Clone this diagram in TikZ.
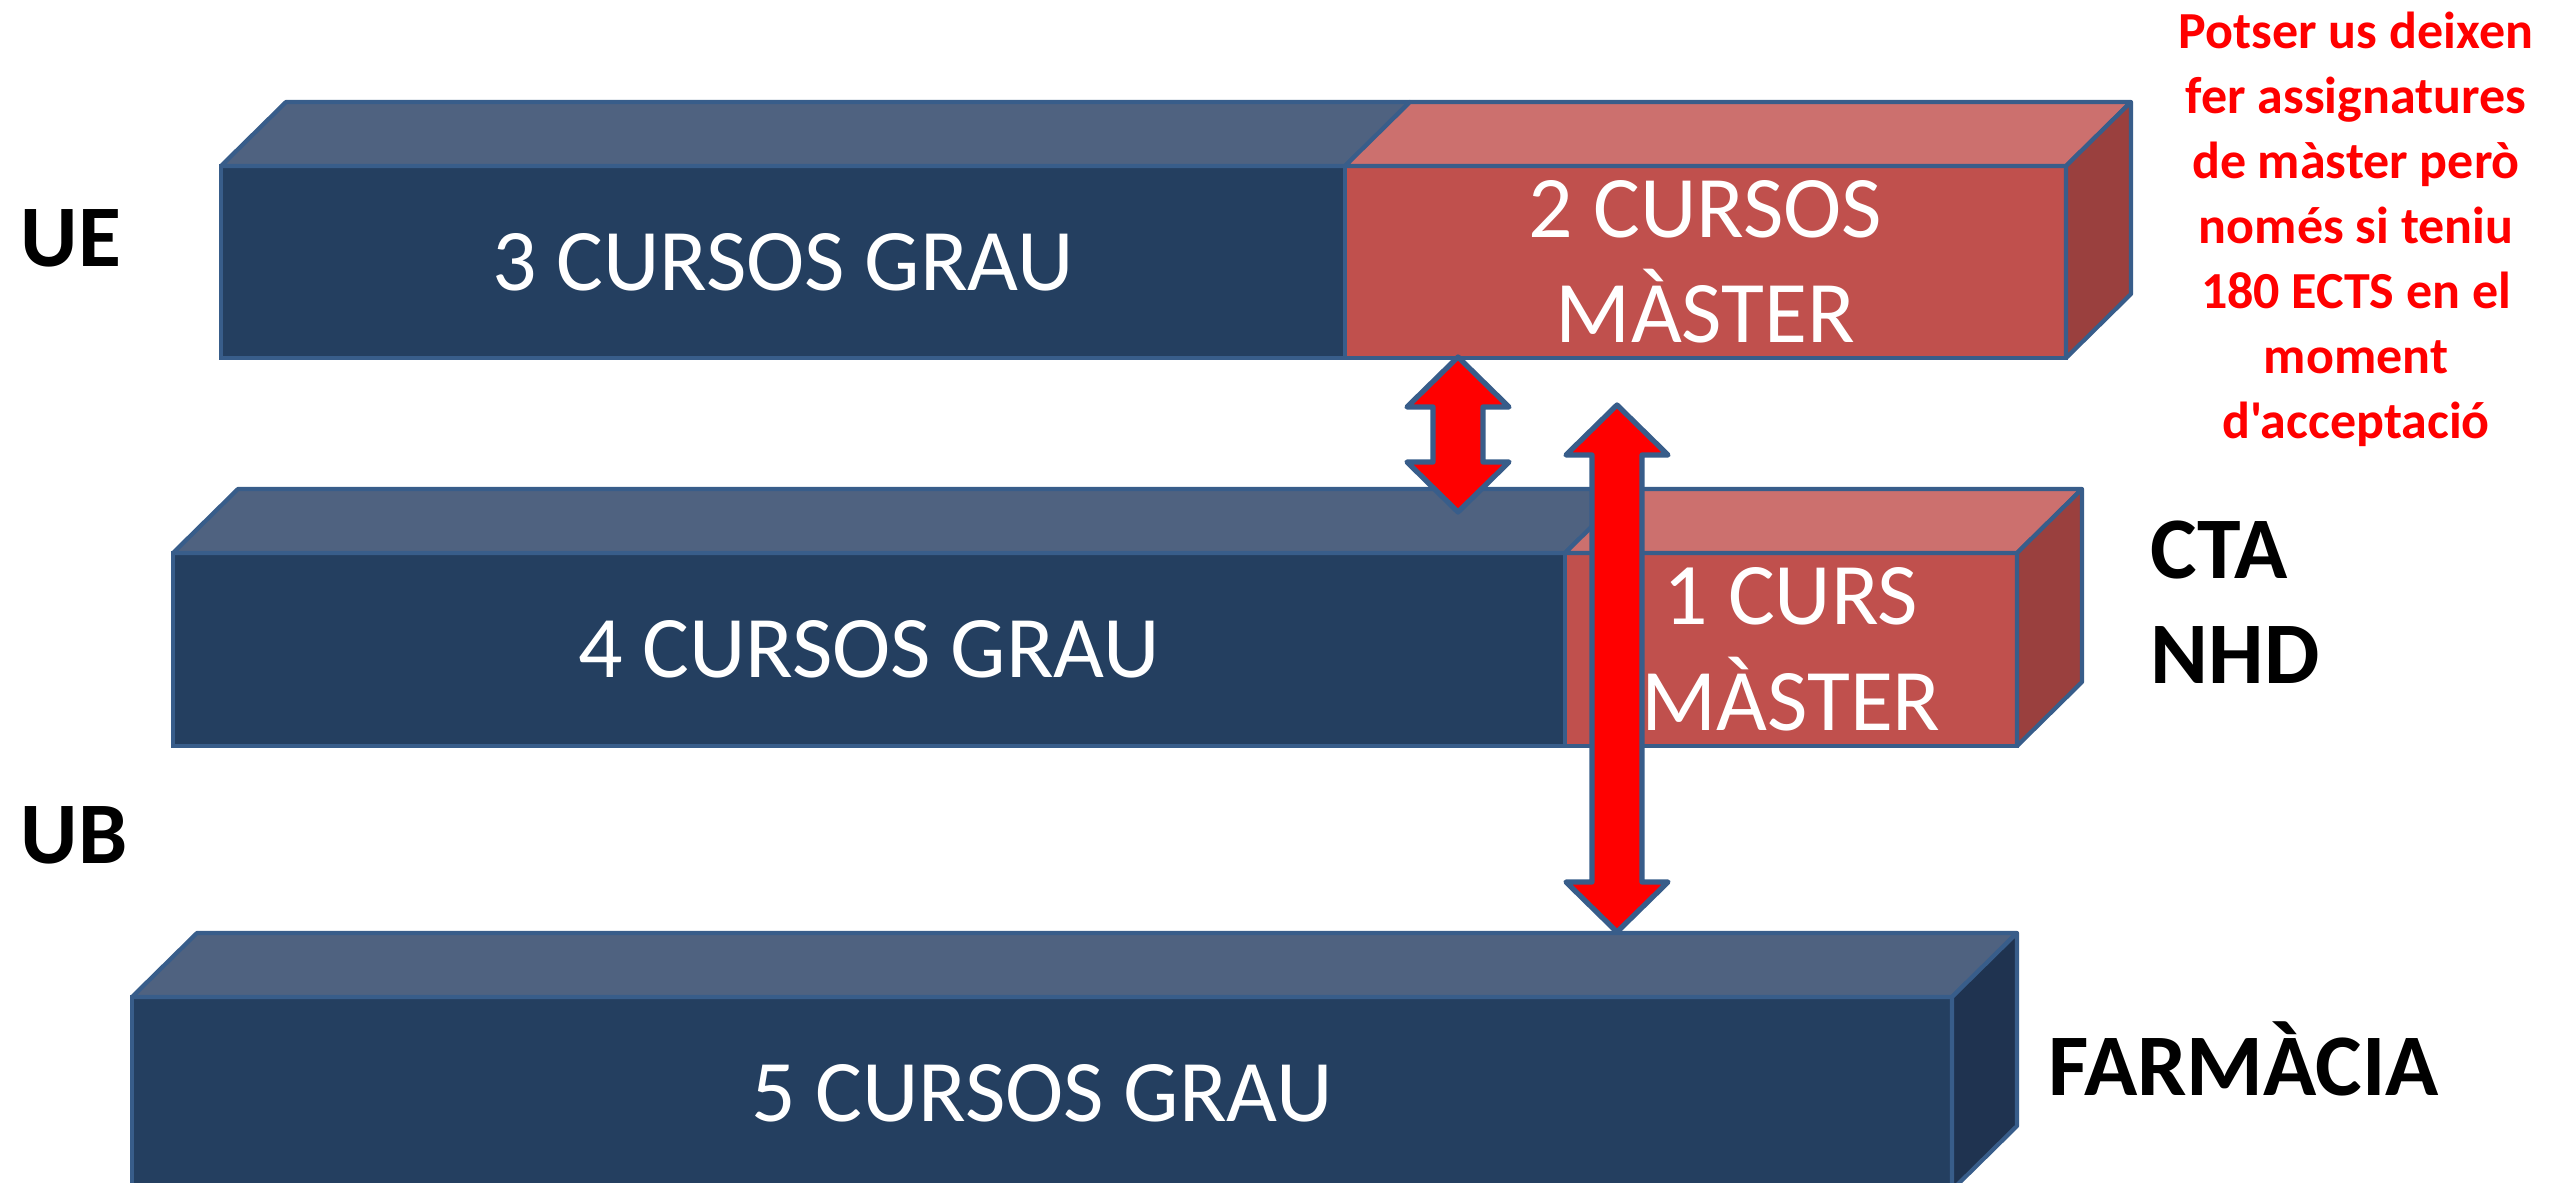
\documentclass[tikz,border=0pt]{standalone}
\usepackage{fontspec}
\setmainfont{Carlito}
\newfontfamily\notefont{Carlito}[Ligatures=TeXOff]
\usetikzlibrary{calc,positioning}

\definecolor{boxline}{HTML}{385D8A}
\definecolor{navyfront}{HTML}{243F60}
\definecolor{navytop}{HTML}{4F6280}
\definecolor{navyside}{HTML}{1F3350}
\definecolor{redfront}{HTML}{C0504D}
\definecolor{redtop}{HTML}{CC706E}
\definecolor{redside}{HTML}{9A403E}
\definecolor{arrowred}{HTML}{FF0000}

% top and right faces of a block, hung on the corners of its front node
\newcommand{\topface}[2]{\draw[blockface,fill=#2] (#1.north west) -- ++(0.65,0.64) -- ($(#1.north east)+(0.65,0.64)$) -- (#1.north east) -- cycle;}
\newcommand{\sideface}[2]{\draw[blockface,fill=#2] (#1.north east) -- ++(0.65,0.64) -- ($(#1.south east)+(0.65,0.64)$) -- (#1.south east) -- cycle;}
% block arrow with a head at each end
\newcommand{\dblarrow}[2]{\draw[blockarrow] (#1) -- ($(#1)+(0.51,-0.5)$) -- ($(#1)+(0.25,-0.5)$) -- ($(#2)+(0.25,0.5)$) -- ($(#2)+(0.51,0.5)$) -- (#2) -- ($(#2)+(-0.51,0.5)$) -- ($(#2)+(-0.25,0.5)$) -- ($(#1)+(-0.25,-0.5)$) -- ($(#1)+(-0.51,-0.5)$) -- cycle;}

\begin{document}
\begin{tikzpicture}[
  frontface/.style={draw=boxline, line width=1.2pt, outer sep=0pt, inner sep=0pt, text=white, align=center, font=\fontsize{25}{30}\selectfont},
  blockface/.style={draw=boxline, line width=1.2pt, line join=round},
  sidelabel/.style={inner sep=0pt, align=left, font=\fontsize{25}{30}\selectfont\bfseries},
  note/.style={inner sep=0pt, align=center, text=arrowred, font=\notefont\fontsize{14.8}{18.5}\selectfont\bfseries},
  blockarrow/.style={draw=boxline, fill=arrowred, line width=1.5pt, line join=round}]

% page frame
\useasboundingbox (0,0) rectangle (25.56,11.83);
\clip (0,0) rectangle (25.56,11.83);

% UE: 3 + 2
\node[frontface, fill=navyfront, minimum width=11.24cm, minimum height=1.92cm] (ue grau) at (7.83,9.21) {3 CURSOS GRAU};
\node[frontface, fill=redfront, minimum width=7.21cm, minimum height=1.92cm, right=0pt of ue grau] (ue master) {2 CURSOS\\MÀSTER};
\topface{ue grau}{navytop}
\topface{ue master}{redtop}
\sideface{ue master}{redside}

% UB: 4 + 1
\node[frontface, fill=navyfront, minimum width=13.92cm, minimum height=1.93cm] (ub grau) at (8.69,5.335) {4 CURSOS GRAU};
\node[frontface, fill=redfront, minimum width=4.52cm, minimum height=1.93cm, right=0pt of ub grau] (ub master) {1 CURS\\MÀSTER};
\topface{ub grau}{navytop}
\topface{ub master}{redtop}
\sideface{ub master}{redside}

% farmacia: 5
\node[frontface, fill=navyfront, minimum width=18.20cm, minimum height=1.93cm] (fa grau) at (10.42,0.895) {5 CURSOS GRAU};
\topface{fa grau}{navytop}
\sideface{fa grau}{navyside}

% labels
\node[sidelabel, anchor=base west] (ue) at (0.20,9.16) {UE};
\node[sidelabel, anchor=base west] (ub) at (0.20,3.19) {UB};
\node[sidelabel, anchor=base west] (cta) at (21.50,6.04) {CTA};
\node[sidelabel, anchor=base west] (nhd) at (21.50,4.99) {NHD};
\node[sidelabel, anchor=base west] (farmacia) at (20.48,0.87) {FARMÀCIA};

% note
\node[note, anchor=north] (avis) at (23.56,11.72) {Potser us deixen\\fer assignatures\\de màster però\\només si teniu\\180 ECTS en el\\moment\\d'acceptació};

% arrows
\coordinate (a1 top) at (14.58,8.26);
\coordinate (a1 bot) at (14.58,6.71);
\coordinate (a2 top) at (16.17,7.78);
\coordinate (a2 bot) at (16.17,2.51);
\dblarrow{a1 top}{a1 bot}
\dblarrow{a2 top}{a2 bot}

\end{tikzpicture}
\end{document}
